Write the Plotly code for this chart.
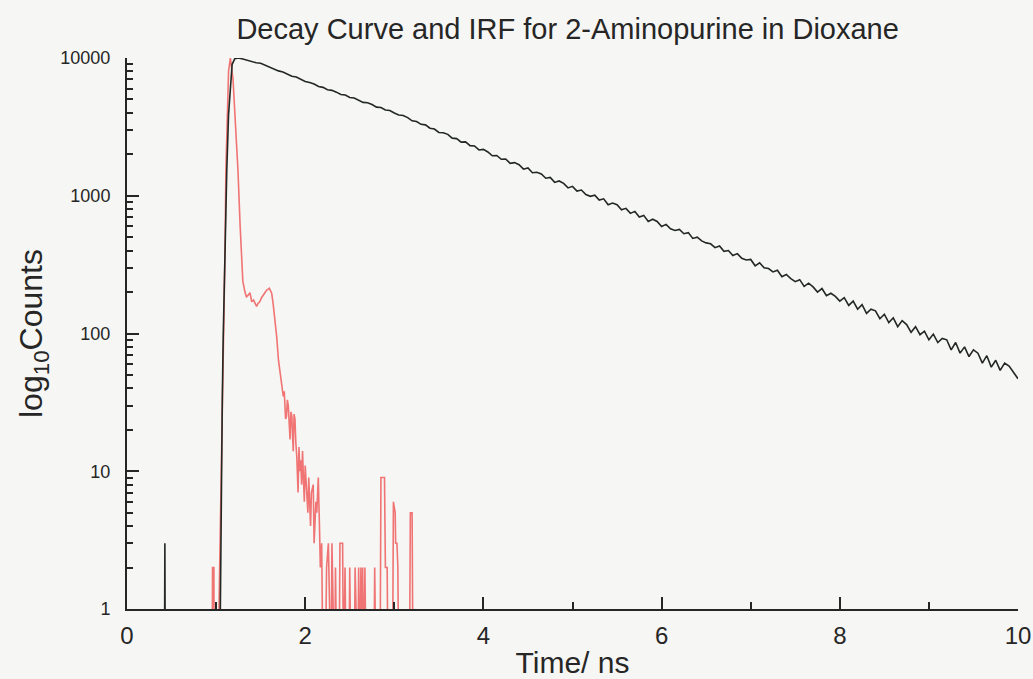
import plotly.graph_objects as go

# ---------------- data ----------------
# Decay curve: rise region (time / ns, counts)
rise_time = [0.00, 0.42, 0.425, 0.43, 1.04, 1.05, 1.06, 1.07, 1.08, 1.10,
             1.12, 1.14, 1.16, 1.18, 1.21]
rise_counts = [0, 0, 3, 0, 0, 2, 8, 35, 95, 420,
               1540, 3900, 6100, 9000, 9900]

# Decay curve: tail (time / ns)
decay_time = [1.25, 1.30, 1.35, 1.40, 1.45, 1.50, 1.55, 1.60, 1.65, 1.70,
              1.75, 1.80, 1.85, 1.90, 1.95, 2.00, 2.05, 2.10, 2.15, 2.20,
              2.25, 2.30, 2.35, 2.40, 2.45, 2.50, 2.55, 2.60, 2.65, 2.70,
              2.75, 2.80, 2.85, 2.90, 2.95, 3.00, 3.05, 3.10, 3.15, 3.20,
              3.25, 3.30, 3.35, 3.40, 3.45, 3.50, 3.55, 3.60, 3.65, 3.70,
              3.75, 3.80, 3.85, 3.90, 3.95, 4.00, 4.05, 4.10, 4.15, 4.20,
              4.25, 4.30, 4.35, 4.40, 4.45, 4.50, 4.55, 4.60, 4.65, 4.70,
              4.75, 4.80, 4.85, 4.90, 4.95, 5.00, 5.05, 5.10, 5.15, 5.20,
              5.25, 5.30, 5.35, 5.40, 5.45, 5.50, 5.55, 5.60, 5.65, 5.70,
              5.75, 5.80, 5.85, 5.90, 5.95, 6.00, 6.05, 6.10, 6.15, 6.20,
              6.25, 6.30, 6.35, 6.40, 6.45, 6.50, 6.55, 6.60, 6.65, 6.70,
              6.75, 6.80, 6.85, 6.90, 6.95, 7.00, 7.05, 7.10, 7.15, 7.20,
              7.25, 7.30, 7.35, 7.40, 7.45, 7.50, 7.55, 7.60, 7.65, 7.70,
              7.75, 7.80, 7.85, 7.90, 7.95, 8.00, 8.05, 8.10, 8.15, 8.20,
              8.25, 8.30, 8.35, 8.40, 8.45, 8.50, 8.55, 8.60, 8.65, 8.70,
              8.75, 8.80, 8.85, 8.90, 8.95, 9.00, 9.05, 9.10, 9.15, 9.20,
              9.25, 9.30, 9.35, 9.40, 9.45, 9.50, 9.55, 9.60, 9.65, 9.70,
              9.75, 9.80, 9.85, 9.90, 9.95, 10.00]
decay_counts = [9990, 9840, 9610, 9500, 9230, 9150, 8880, 8540, 8370, 8060,
                7920, 7610, 7360, 7270, 7040, 6760, 6650, 6480, 6210, 6120,
                5890, 5820, 5650, 5440, 5380, 5170, 5120, 4960, 4760, 4730,
                4600, 4400, 4370, 4190, 4160, 3990, 3860, 3830, 3690, 3500,
                3460, 3300, 3270, 3090, 3050, 2880, 2870, 2790, 2620, 2600,
                2450, 2460, 2310, 2300, 2150, 2170, 2080, 1950, 1960, 1840,
                1850, 1720, 1740, 1680, 1560, 1590, 1470, 1480, 1440, 1340,
                1360, 1250, 1280, 1230, 1140, 1170, 1080, 1100, 1020, 990,
                1010, 930, 950, 860, 885, 860, 790, 810, 745, 770,
                700, 720, 650, 675, 650, 598, 620, 575, 560, 570,
                530, 540, 490, 500, 470, 455, 448, 420, 432, 395,
                400, 368, 380, 352, 342, 345, 310, 326, 300, 296,
                280, 288, 258, 268, 250, 238, 246, 220, 232, 218,
                200, 212, 188, 196, 186, 172, 182, 160, 172, 150,
                162, 140, 150, 146, 128, 138, 120, 130, 112, 124,
                116, 102, 112, 98, 104, 90, 99, 86, 92, 90,
                76, 86, 72, 80, 68, 76, 72, 61, 69, 57,
                64, 54, 61, 58, 52, 47]

# Instrument response function (time / ns, counts)
irf_time = [0.94, 0.955, 0.96, 0.975, 0.98, 1.02, 1.04, 1.06, 1.08, 1.09,
            1.10, 1.11, 1.125, 1.14, 1.16, 1.175, 1.19, 1.215, 1.245, 1.27,
            1.30, 1.324, 1.34, 1.36, 1.38, 1.40, 1.42, 1.437, 1.455, 1.47,
            1.49, 1.51, 1.53, 1.55, 1.568, 1.585, 1.597, 1.61, 1.624, 1.64,
            1.653, 1.667, 1.68, 1.70, 1.717, 1.73, 1.745, 1.754, 1.765, 1.773,
            1.78, 1.79, 1.80, 1.81, 1.82, 1.83, 1.84, 1.85, 1.858, 1.866,
            1.875, 1.885, 1.895, 1.905, 1.92, 1.93, 1.94, 1.95, 1.96, 1.97,
            1.98, 1.99, 2.00, 2.017, 2.03, 2.04, 2.05, 2.06, 2.07, 2.09,
            2.10, 2.12, 2.13, 2.147, 2.16, 2.17, 2.185, 2.20, 2.225, 2.24,
            2.26, 2.275, 2.29, 2.30, 2.315, 2.33, 2.34, 2.355, 2.38, 2.39,
            2.42, 2.43, 2.447, 2.46, 2.49, 2.50, 2.515, 2.55, 2.56, 2.575,
            2.59, 2.60, 2.615, 2.625, 2.635, 2.645, 2.66, 2.67, 2.685, 2.77,
            2.78, 2.795, 2.84, 2.85, 2.89, 2.90, 2.92, 2.93, 2.98, 2.99,
            3.01, 3.015, 3.03, 3.04, 3.05, 3.17, 3.18, 3.20, 3.21]
irf_counts = [0, 0, 2, 2, 0, 0, 2, 12, 60, 90,
              400, 1550, 4500, 8000, 10000, 8500, 7000, 3500, 1550, 600,
              240, 200, 185, 190, 198, 170, 175, 166, 157, 165,
              170, 182, 190, 200, 207, 210, 213, 205, 196, 165,
              140, 115, 95, 64, 52, 44, 40, 35, 38, 31,
              24, 25, 33, 30, 20, 17, 27, 25, 18, 14,
              26, 24, 16, 13, 7, 15, 10, 12, 8, 14,
              9, 6, 11, 7, 5, 9, 6, 4, 7, 8,
              3, 6, 5, 9, 4, 2, 3, 0, 0, 2,
              3, 0, 0, 3, 0, 0, 2, 0, 0, 3,
              3, 0, 2, 0, 0, 2, 0, 0, 2, 0,
              0, 2, 0, 2, 0, 2, 0, 2, 0, 0,
              2, 0, 0, 9, 9, 2, 2, 0, 0, 6,
              5, 3, 3, 2, 0, 0, 5, 5, 0]

x_tick_vals = [0, 2, 4, 6, 8, 10]
x_tick_text = ["0", "2", "4", "6", "8", "10"]
x_minor_vals = [1, 3, 5, 7, 9]
y_tick_vals = [1, 10, 100, 1000, 10000]
y_tick_text = ["1", "10", "100", "1000", "10000"]

# ---------------- figure ----------------
FLOOR = 0.3  # zero counts are drawn below the log axis floor (clipped)


def for_log(vals):
    return [v if v > 0 else FLOOR for v in vals]


y_minor_vals = [m * 10 ** k for k in range(4) for m in range(2, 10)]

INK = "#262626"
BG = "#f6f6f4"
FONT = "Liberation Sans, Arial, sans-serif"

fig = go.Figure()
fig.add_trace(go.Scatter(
    x=irf_time, y=for_log(irf_counts), mode="lines", name="IRF",
    line=dict(color="#f07474", width=1.6)))
fig.add_trace(go.Scatter(
    x=rise_time + decay_time, y=for_log(rise_counts + decay_counts),
    mode="lines", name="Decay", line=dict(color="#232823", width=1.6)))

fig.update_layout(
    width=1033, height=679,
    margin=dict(l=127, r=15, t=58, b=70, autoexpand=False),
    paper_bgcolor=BG, plot_bgcolor=BG,
    showlegend=False,
    font=dict(family=FONT, color=INK),
    title=dict(text="Decay Curve and IRF for 2-Aminopurine in Dioxane",
               x=0.5495, xanchor="center", y=0.957, yanchor="middle",
               yref="container",
               font=dict(family=FONT, size=29, color=INK)),
)

fig.update_xaxes(
    range=[0, 10], tickmode="array", tickvals=x_tick_vals, ticktext=x_tick_text,
    ticks="inside", ticklen=12, tickwidth=2, tickcolor=INK,
    showline=True, linewidth=2, linecolor=INK, mirror=False,
    showgrid=False, zeroline=False, automargin=False,
    minor=dict(tickmode="array", tickvals=x_minor_vals, ticks="inside",
               ticklen=7, tickwidth=2, tickcolor=INK, showgrid=False),
    tickfont=dict(family=FONT, size=24, color=INK), ticklabelstandoff=4,
    title=dict(text="Time/ ns", font=dict(family=FONT, size=30, color=INK),
               standoff=4),
)

fig.update_yaxes(
    type="log", range=[0, 4], tickmode="array", tickvals=y_tick_vals,
    ticktext=y_tick_text,
    ticks="inside", ticklen=12, tickwidth=2, tickcolor=INK,
    showline=True, linewidth=2, linecolor=INK, mirror=False,
    showgrid=False, zeroline=False, automargin=False,
    minor=dict(tickmode="array", tickvals=y_minor_vals, ticks="inside",
               ticklen=6, tickwidth=1.6, tickcolor=INK, showgrid=False),
    tickfont=dict(family=FONT, size=18, color=INK),
    ticklabelstandoff=11,
    title=dict(text="log<sub>10</sub>Counts",
               font=dict(family=FONT, size=32, color=INK), standoff=8),
)

fig.write_html("out.html")
